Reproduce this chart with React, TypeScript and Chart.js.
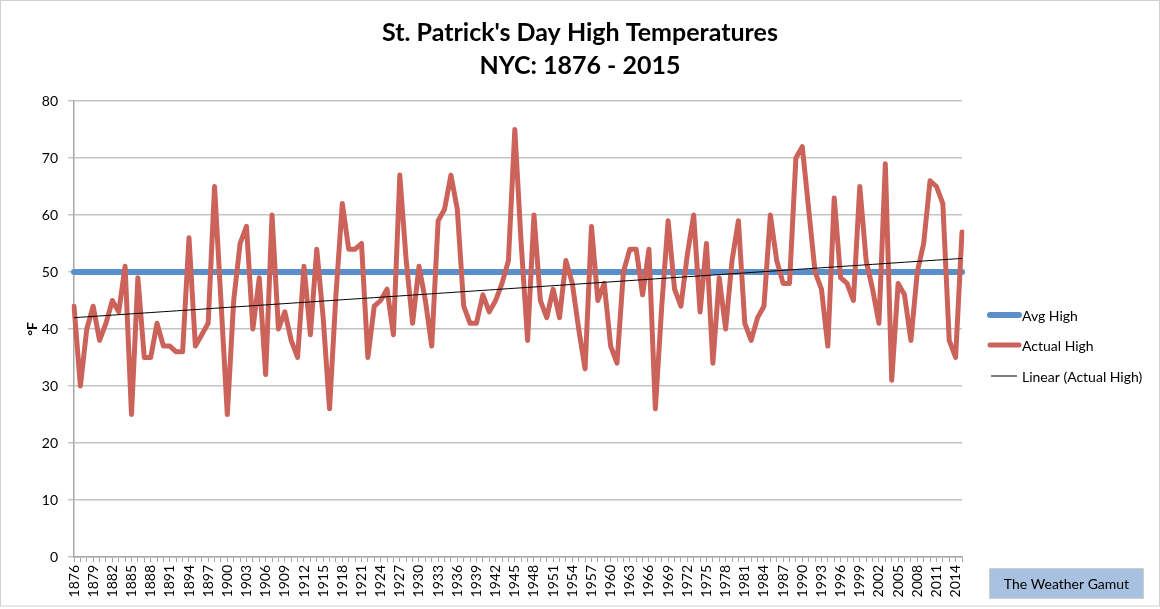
import React, { useEffect, useRef } from "react";
import { Chart, registerables } from "chart.js";

Chart.register(...registerables);

const FIRST_YEAR = 1876;
const LAST_YEAR = 2015;
const years: string[] = Array.from({ length: LAST_YEAR - FIRST_YEAR + 1 }, (_, i) => String(FIRST_YEAR + i));

// St. Patrick's Day high temperatures (°F), 1876 - 2015
const actualHigh: number[] = [
  44, 30, 40, 44, 38, 41, 45, 43, 51, 25, // 1876-1885
  49, 35, 35, 41, 37, 37, 36, 36, 56, 37, // 1886-1895
  39, 41, 65, 45, 25, 45, 55, 58, 40, 49, // 1896-1905
  32, 60, 40, 43, 38, 35, 51, 39, 54, 42, // 1906-1915
  26, 46, 62, 54, 54, 55, 35, 44, 45, 47, // 1916-1925
  39, 67, 52, 41, 51, 45, 37, 59, 61, 67, // 1926-1935
  61, 44, 41, 41, 46, 43, 45, 48, 52, 75, // 1936-1945
  55, 38, 60, 45, 42, 47, 42, 52, 48, 40, // 1946-1955
  33, 58, 45, 48, 37, 34, 50, 54, 54, 46, // 1956-1965
  54, 26, 44, 59, 47, 44, 53, 60, 43, 55, // 1966-1975
  34, 49, 40, 52, 59, 41, 38, 42, 44, 60, // 1976-1985
  52, 48, 48, 70, 72, 61, 50, 47, 37, 63, // 1986-1995
  49, 48, 45, 65, 52, 47, 41, 69, 31, 48, // 1996-2005
  46, 38, 50, 55, 66, 65, 62, 38, 35, 57, // 2006-2015
];

const AVG_HIGH = 50;
const yTicks: number[] = [0, 10, 20, 30, 40, 50, 60, 70, 80];

const TITLE_LINES = ["St. Patrick's Day High Temperatures", "NYC: 1876 - 2015"];
const SERIES_NAMES = ["Avg High", "Actual High", "Linear (Actual High)"];
const WATERMARK = "The Weather Gamut";

const FONT = "Lato, 'Liberation Sans', sans-serif";

function linearFit(values: number[]): number[] {
  const n = values.length;
  let sx = 0, sy = 0, sxx = 0, sxy = 0;
  values.forEach((v, i) => {
    sx += i; sy += v; sxx += i * i; sxy += i * v;
  });
  const slope = (n * sxy - sx * sy) / (n * sxx - sx * sx);
  const intercept = (sy - slope * sx) / n;
  return values.map((_, i) => intercept + slope * i);
}

const frameAndLegend = {
  id: "frameAndLegend",
  afterDraw(chart: any) {
    const { ctx, chartArea } = chart;
    ctx.save();
    // outer frame
    ctx.strokeStyle = "#d0d0d0";
    ctx.lineWidth = 1;
    ctx.strokeRect(0.5, 0.5, chart.width - 1, 605.5);

    // legend
    const order = [0, 1, 2];
    const rowY = [315, 345, 376];
    const x0 = chartArea.right + 28;
    const x1 = chartArea.right + 57;
    order.forEach((di, r) => {
      const ds = chart.data.datasets[di];
      ctx.beginPath();
      ctx.strokeStyle = ds.borderColor;
      ctx.lineWidth = ds.borderWidth;
      ctx.lineCap = ds.borderWidth > 2 ? "round" : "butt";
      ctx.moveTo(x0 + (ds.borderWidth > 2 ? 0 : 1), rowY[r]);
      ctx.lineTo(x1 - (ds.borderWidth > 2 ? 0 : 2), rowY[r]);
      ctx.stroke();
      ctx.fillStyle = "#000";
      ctx.font = `14px ${FONT}`;
      ctx.textBaseline = "middle";
      ctx.textAlign = "left";
      ctx.fillText(ds.label, chartArea.right + 60, rowY[r] + 1);
    });

    // watermark box
    const bx = 989, by = 568, bw = 155, bh = 31;
    ctx.fillStyle = "#a9c1e0";
    ctx.fillRect(bx, by, bw, bh);
    ctx.strokeStyle = "#cfcfcf";
    ctx.lineWidth = 1;
    ctx.strokeRect(bx + 0.5, by + 0.5, bw - 1, bh - 1);
    ctx.fillStyle = "#000";
    ctx.font = `14px ${FONT}`;
    ctx.textAlign = "center";
    ctx.textBaseline = "middle";
    ctx.fillText(WATERMARK, bx + bw / 2, by + bh / 2 + 1);
    ctx.restore();
  },
};

export default function App() {
  const ref = useRef<HTMLCanvasElement | null>(null);

  useEffect(() => {
    document.body.style.margin = "0";
    if (!ref.current) return;
    const trend = linearFit(actualHigh);
    const chart = new Chart(ref.current, {
      type: "line",
      data: {
        labels: years,
        datasets: [
          {
            label: SERIES_NAMES[0],
            data: years.map(() => AVG_HIGH),
            borderColor: "#5b8fc9",
            backgroundColor: "#5b8fc9",
            borderWidth: 6,
            pointRadius: 0,
            borderCapStyle: "round",
            order: 2,
          },
          {
            label: SERIES_NAMES[1],
            data: actualHigh,
            borderColor: "#cc635b",
            backgroundColor: "#cc635b",
            borderWidth: 5,
            pointRadius: 0,
            borderJoinStyle: "round",
            borderCapStyle: "round",
            order: 1,
          },
          {
            label: SERIES_NAMES[2],
            data: trend,
            borderColor: "#000000",
            backgroundColor: "#000000",
            borderWidth: 1,
            pointRadius: 0,
            order: 0,
          },
        ],
      },
      options: {
        responsive: false,
        animation: false,
        layout: { padding: { left: 0, right: 0, top: 0, bottom: 0 } },
        plugins: {
          legend: { display: false },
          tooltip: { enabled: false },
          title: {
            display: true,
            text: TITLE_LINES,
            color: "#000",
            font: { family: FONT, size: 25, weight: "bold", lineHeight: 1.32 },
            padding: { top: 16.5, bottom: 18.5 },
          },
        },
        scales: {
          x: {
            type: "category",
            offset: false,
            grid: {
              display: true,
              drawOnChartArea: false,
              drawTicks: true,
              tickLength: 5,
              color: "#a8a8a8",
            },
            border: { display: true, color: "#a8a8a8", width: 1.5 },
            ticks: {
              autoSkip: false,
              maxRotation: 90,
              minRotation: 90,
              padding: 3,
              color: "#000",
              font: { family: FONT, size: 14 },
              callback: (_v: any, i: number) => (i % 3 === 0 ? years[i] : ""),
            },
            afterFit: (s: any) => {
              s.height = 52;
            },
          },
          y: {
            min: 0,
            max: 80,
            afterBuildTicks: (s: any) => {
              s.ticks = yTicks.map((v) => ({ value: v }));
            },
            grid: {
              color: "#c4c4c4",
              lineWidth: 1.5,
              drawTicks: true,
              tickLength: 6,
            },
            border: { display: true, color: "#a8a8a8", width: 1.5 },
            ticks: {
              color: "#000",
              padding: 10,
              font: { family: FONT, size: 14 },
            },
            title: {
              display: true,
              text: "°F",
              color: "#000",
              font: { family: FONT, size: 14, weight: "bold" },
              padding: { top: 24, bottom: 0 },
            },
            afterFit: (s: any) => {
              s.width = 74;
            },
          },
          yR: {
            type: "linear",
            position: "right",
            display: true,
            grid: { display: false, drawTicks: false },
            border: { display: false },
            ticks: { display: false },
            afterFit: (s: any) => {
              s.width = 198;
            },
          },
        },
      },
      plugins: [frameAndLegend],
    });
    return () => chart.destroy();
  }, []);

  return (
    <div style={{ position: "absolute", left: 0, top: 0, width: 1160, height: 609, background: "#fff" }}>
      <canvas ref={ref} width={1160} height={609} style={{ width: 1160, height: 609 }} />
    </div>
  );
}
